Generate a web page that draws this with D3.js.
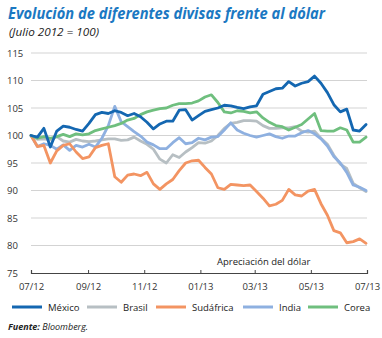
<!DOCTYPE html>
<html>
<head>
<meta charset="utf-8">
<script src="https://cdn.jsdelivr.net/npm/d3@7"></script>
<style>
  body { margin: 0; background: #fff; }
  text { font-family: "Open Sans", "Liberation Sans", sans-serif; }
</style>
</head>
<body>
<div class="chart"></div>
<script>
// weekly observations, July 2012 = 100
const startDate = new Date(2012, 6, 1);
const weeks = d3.range(53);

const mexico = [100, 99.7, 101.3, 97.9, 100.8, 101.7, 101.5, 101.1, 100.8, 102.2,
  103.8, 104.2, 104.0, 104.5, 104.2, 103.6, 104.0, 103.4, 102.4, 101.2,
  102.1, 102.6, 102.6, 104.6, 104.7, 102.8, 103.6, 104.4, 104.7, 105.0,
  105.5, 105.4, 105.1, 104.9, 105.2, 105.4, 107.5, 108.0, 108.5, 108.6,
  109.8, 109.0, 109.5, 109.8, 110.8, 109.5, 107.8, 105.6, 104.3, 104.8,
  101.0, 100.8, 102.0];
const brasil = [100, 99.3, 99.4, 99.2, 99.8, 99.0, 98.8, 99.3, 99.0, 98.9,
  99.0, 99.2, 99.4, 99.4, 99.1, 99.2, 99.7, 99.0, 98.4, 97.5,
  95.7, 95.0, 96.5, 96.0, 97.0, 97.8, 98.7, 98.6, 99.0, 100.0,
  101.3, 102.2, 102.4, 102.7, 102.7, 102.6, 101.8, 101.3, 101.3, 101.4,
  101.4, 101.6, 100.8, 100.6, 100.8, 99.5, 98.4, 96.4, 94.8, 94.0,
  91.3, 90.5, 89.8];
const sudafrica = [100, 98.0, 98.2, 95.0, 97.2, 98.2, 98.5, 97.0, 95.8, 96.1,
  97.8, 98.2, 98.5, 92.5, 91.5, 92.8, 93.0, 92.7, 93.3, 91.2,
  90.2, 91.2, 92.0, 93.6, 95.0, 95.4, 95.5, 94.2, 93.0, 90.5,
  90.2, 91.1, 91.0, 90.9, 91.0, 89.8, 88.6, 87.2, 87.5, 88.2,
  90.2, 89.2, 89.0, 89.9, 90.2, 87.6, 85.5, 82.7, 82.3, 80.5,
  80.7, 81.2, 80.4];
const india = [100, 98.0, 98.5, 98.2, 97.5, 98.3, 97.3, 98.2, 97.9, 98.4,
  97.9, 99.5, 101.8, 105.3, 102.5, 101.6, 100.7, 99.9, 98.8, 98.3,
  97.6, 97.6, 98.7, 99.6, 98.5, 98.7, 99.5, 99.2, 99.7, 99.8,
  101.0, 102.3, 101.0, 100.4, 100.0, 99.7, 100.0, 100.3, 99.8, 99.5,
  99.9, 99.9, 100.5, 100.9, 100.3, 99.4, 98.1, 96.2, 95.0, 93.3,
  91.0, 90.6, 90.0];
const corea = [100, 99.5, 99.8, 99.5, 99.8, 100.2, 99.8, 100.3, 100.1, 100.3,
  100.9, 101.2, 101.5, 101.8, 102.2, 102.8, 103.1, 103.8, 104.3, 104.6,
  104.9, 105.0, 105.5, 105.8, 105.8, 105.9, 106.3, 107.0, 107.4, 106.0,
  104.3, 104.1, 104.5, 104.4, 104.1, 104.3, 103.2, 102.4, 101.8, 101.6,
  101.0, 101.5, 102.0, 103.0, 104.0, 100.9, 100.8, 100.8, 101.4, 101.0,
  98.8, 98.8, 99.7];

const yTicks = [75, 80, 85, 90, 95, 100, 105, 110, 115];

const series = [
  { name: "Brasil", values: brasil, color: "#b7bfc3" },
  { name: "India", values: india, color: "#8eb0e0" },
  { name: "Sudáfrica", values: sudafrica, color: "#f39462" },
  { name: "Corea", values: corea, color: "#6fbf7e" },
  { name: "México", values: mexico, color: "#1467b1" }
];
const legendOrder = ["México", "Brasil", "Sudáfrica", "India", "Corea"];

const dates = weeks.map(w => d3.timeDay.offset(startDate, w * 7));

const W = 382, H = 338;
const margin = { top: 53, right: 15, bottom: 65, left: 31 };

const svg = d3.select(".chart").append("svg")
  .attr("width", W).attr("height", H);

// title
svg.append("text")
  .attr("x", 8).attr("y", 19)
  .attr("font-size", 16.5).attr("font-weight", "bold").attr("font-style", "italic")
  .attr("fill", "#1b78c2")
  .attr("textLength", 317).attr("lengthAdjust", "spacingAndGlyphs")
  .text("Evolución de diferentes divisas frente al dólar");
svg.append("text")
  .attr("x", 9).attr("y", 36)
  .attr("font-size", 10.5).attr("font-style", "italic").attr("fill", "#222")
  .attr("textLength", 90).attr("lengthAdjust", "spacingAndGlyphs")
  .text("(Julio 2012 = 100)");

let x = d3.scaleTime()
  .domain([new Date(2012, 6, 1), new Date(2013, 6, 1)])
  .range([margin.left, W - margin.right]);
let y = d3.scaleLinear()
  .domain([75, 115])
  .range([H - margin.bottom, margin.top]);

// grid
svg.append("g")
  .selectAll("line")
  .data(yTicks.filter(t => t > 75))
  .join("line")
  .attr("x1", x.range()[0]).attr("x2", x.range()[1])
  .attr("y1", d => y(d)).attr("y2", d => y(d))
  .attr("stroke", "#d3d3d3").attr("stroke-width", 1);

// y labels
svg.append("g")
  .selectAll("text")
  .data(yTicks)
  .join("text")
  .attr("x", 7).attr("y", d => y(d) + 3.5)
  .attr("font-size", 9.5).attr("fill", "#333")
  .text(d => d);

// x axis
const xAxis = svg.append("g")
  .attr("transform", "translate(0," + y(75) + ")")
  .call(d3.axisTop(x)
    .ticks(d3.timeMonth.every(2))
    .tickSize(3)
    .tickFormat(d3.timeFormat("%m/%y")));
xAxis.select(".domain").attr("stroke", "#444").attr("stroke-width", 1.2);
xAxis.selectAll(".tick line").attr("stroke", "#444");
xAxis.selectAll(".tick text")
  .attr("y", 17).attr("dy", 0)
  .attr("font-family", "Open Sans, sans-serif")
  .attr("font-size", 9.5).attr("fill", "#333");

// lines
const line = d3.line()
  .x((d, i) => x(dates[i]))
  .y(d => y(d));
svg.append("g")
  .selectAll("path")
  .data(series)
  .join("path")
  .attr("fill", "none")
  .attr("stroke", d => d.color)
  .attr("stroke-width", 2.8)
  .attr("stroke-linejoin", "round")
  .attr("stroke-linecap", "round")
  .attr("d", d => line(d.values));

svg.append("text")
  .attr("x", 217).attr("y", 265)
  .attr("font-size", 9.5).attr("fill", "#222")
  .text("Apreciación del dólar");

// legend
const legendX = [12, 87, 156, 243, 308];
const legend = svg.append("g").selectAll("g")
  .data(legendOrder)
  .join("g")
  .attr("transform", (d, i) => "translate(" + legendX[i] + ",307)");
legend.append("line")
  .attr("x1", 0).attr("x2", 30)
  .attr("stroke", d => series.find(s => s.name === d).color)
  .attr("stroke-width", 3);
legend.append("text")
  .attr("x", 36).attr("y", 3.5)
  .attr("font-size", 9.5).attr("fill", "#222")
  .text(d => d);

// source
const src = svg.append("text")
  .attr("x", 8).attr("y", 330)
  .attr("font-size", 9).attr("font-style", "italic").attr("fill", "#222");
src.append("tspan").attr("font-weight", "bold").text("Fuente: ");
src.append("tspan").text("Bloomberg.");
</script>
</body>
</html>
